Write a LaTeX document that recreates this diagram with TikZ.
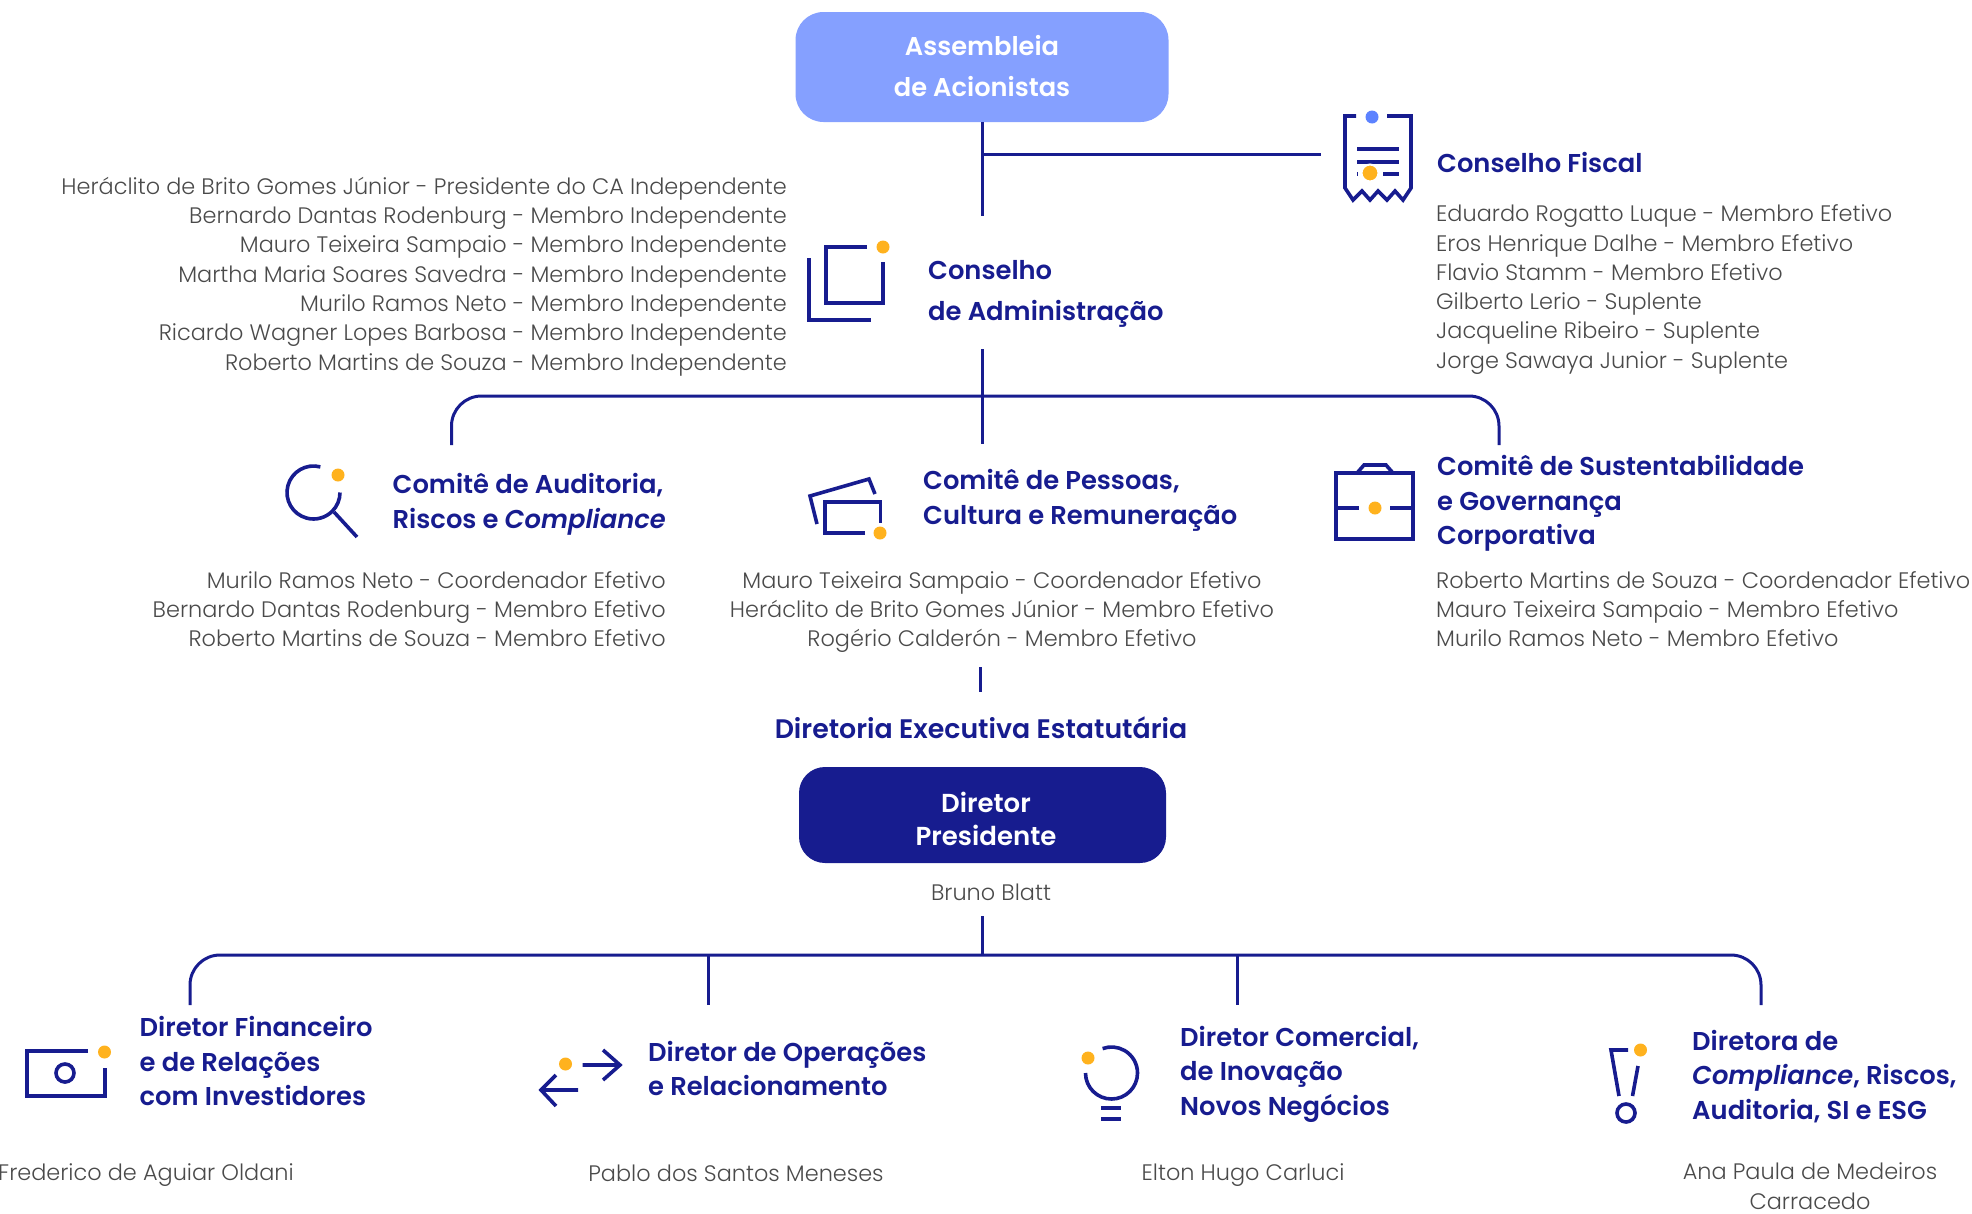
\documentclass[tikz,border=0pt]{standalone}
\usepackage{fontspec}
\setmainfont{Poppins}[BoldFont={Poppins SemiBold},ItalicFont={Poppins Italic},BoldItalicFont={Poppins SemiBold Italic}]
\newfontfamily\listfont{Poppins Light}
\definecolor{navy}{HTML}{171C8F}
\definecolor{periwinkle}{HTML}{85A0FF}
\definecolor{dotorange}{HTML}{FFB21E}
\definecolor{dotblue}{HTML}{5C82FF}
\definecolor{listgray}{HTML}{4A4A4A}
\begin{document}
\begin{tikzpicture}[x=1pt,y=-1pt]
    \tikzset{bus/.style={draw=navy,line width=3pt},
        busround/.style={bus,rounded corners=30pt},
        icon/.style={draw=navy,line width=3.6pt},
        orangedot/.style={circle,fill=dotorange,inner sep=0pt,minimum size=13pt},
        bluedot/.style={orangedot,fill=dotblue},
        topbox/.style={rounded corners=28pt,fill=periwinkle,minimum width=373pt,minimum height=110pt},
        toptext/.style={inner sep=0pt,text=white,align=center,font=\fontsize{25.7}{41}\selectfont\bfseries},
        ceobox/.style={rounded corners=26pt,fill=navy,minimum width=367pt,minimum height=96pt},
        ceotext/.style={inner sep=0pt,text=white,align=center,font=\fontsize{26}{33}\selectfont\bfseries},
        heading/.style={inner sep=0pt,anchor=west,align=left,text=navy,font=\fontsize{25.8}{34.5}\selectfont\bfseries},
        members/.style={inner sep=0pt,text=listgray,font=\fontsize{22.4}{29.3}\selectfont\listfont},
        leftlist/.style={members,anchor=west,align=left},
        rightlist/.style={members,anchor=east,align=right},
        midlist/.style={members,align=center}}
    \useasboundingbox (0,0) rectangle (1972,1213);
    % top of the chart
    \node[topbox] (assembleia) at (982,67) {};
    \node[toptext] (assembleiatext) at (982,66) {Assembleia\\de Acionistas};
    \coordinate (admtop) at (982,216);
    \coordinate (fiscalend) at (1321,154);
    \coordinate (fiscaljoin) at (982,154);
    \draw[bus] (assembleia.south) -- (admtop);
    \draw[bus] (fiscaljoin) -- (fiscalend);
    \node[heading] (fiscal) at (1437,162.5) {Conselho Fiscal};
    \node[leftlist] (fiscallist) at (1436,289.5) {Eduardo Rogatto Luque - Membro Efetivo\\Eros Henrique Dalhe - Membro Efetivo\\Flavio Stamm - Membro Efetivo\\Gilberto Lerio - Suplente\\Jacqueline Ribeiro - Suplente\\Jorge Sawaya Junior - Suplente};
    \draw[icon] (1356,116) -- (1345,116) -- (1345,188) -- (1353,200) -- (1362,191) -- (1370,200) -- (1378,191) -- (1387,200) -- (1395,191) -- (1403,200) -- (1411,188) -- (1411,116) -- (1387,116);
    \draw[icon] (1357,149) -- (1399,149) (1357,162) -- (1399,162) (1357,174) -- (1358,174) (1383,174) -- (1399,174);
    \node[bluedot] (fiscalblue) at (1372,117) {};
    \node[orangedot,draw=white,line width=2pt,minimum size=17pt] (fiscaldot) at (1370,173) {};
    % conselho de administracao
    \node[heading,font=\fontsize{25.8}{41}\selectfont\bfseries] (adm) at (928,294) {Conselho\\de Administração};
    \node[rightlist] (admlist) at (787,276.5) {Heráclito de Brito Gomes Júnior - Presidente do CA Independente\\Bernardo Dantas Rodenburg - Membro Independente\\Mauro Teixeira Sampaio - Membro Independente\\Martha Maria Soares Savedra - Membro Independente\\Murilo Ramos Neto - Membro Independente\\Ricardo Wagner Lopes Barbosa - Membro Independente\\Roberto Martins de Souza - Membro Independente};
    \draw[icon] (809,258) -- (809,320) -- (871,320);
    \draw[icon] (867,247) -- (826,247) -- (826,303) -- (883,303) -- (883,262);
    \node[orangedot] (admdot) at (883,247) {};
    % comites
    \coordinate (admbottom) at (982,349);
    \coordinate (pessoastop) at (982,444);
    \coordinate (auditoriatop) at (451.5,445);
    \coordinate (sustentop) at (1499,445);
    \coordinate (busmid) at (982,396);
    \draw[bus] (admbottom) -- (pessoastop);
    \draw[busround] (auditoriatop) |- (busmid) -| (sustentop);
    \node[heading] (auditoria) at (392.5,504.5) {Comitê de Auditoria,\\Riscos e \textit{Compliance}};
    \node[rightlist] (auditorialist) at (666,609) {Murilo Ramos Neto - Coordenador Efetivo\\Bernardo Dantas Rodenburg - Membro Efetivo\\Roberto Martins de Souza - Membro Efetivo};
    \draw[icon] (313.5,492.5) ++(75:26.5pt) arc[start angle=75,end angle=360,radius=26.5pt];
    \draw[icon] (334,512) -- (357,537);
    \node[orangedot] (auditoriadot) at (338,475) {};
    \node[heading] (pessoas) at (923,500.5) {Comitê de Pessoas,\\Cultura e Remuneração};
    \node[midlist] (pessoaslist) at (1002,612) {Mauro Teixeira Sampaio - Coordenador Efetivo\\Heráclito de Brito Gomes Júnior - Membro Efetivo\\Rogério Calderón - Membro Efetivo};
    \draw[icon] (865,533) -- (825,533) -- (825,502) -- (880.5,502) -- (880.5,523);
    \draw[icon] (817,524) -- (810,496) -- (869,479) -- (875,494);
    \node[orangedot] (pessoasdot) at (880,533) {};
    \node[heading] (susten) at (1437,503.5) {Comitê de Sustentabilidade\\e Governança\\Corporativa};
    \node[leftlist] (sustenlist) at (1436,609) {Roberto Martins de Souza - Coordenador Efetivo\\Mauro Teixeira Sampaio - Membro Efetivo\\Murilo Ramos Neto - Membro Efetivo};
    \draw[icon] (1336,473) rectangle (1413,539);
    \draw[icon] (1357,473) -- (1364,465) -- (1386,465) -- (1393,473);
    \draw[icon] (1336,508) -- (1359,508) (1390,508) -- (1413,508);
    \node[orangedot] (sustendot) at (1375,508) {};
    % diretoria
    \coordinate (dirtop) at (980,667);
    \coordinate (dirbottom) at (980,692);
    \draw[bus] (dirtop) -- (dirbottom);
    \node[heading,anchor=center,font=\fontsize{26.8}{34.5}\selectfont\bfseries] (diretoria) at (981,728) {Diretoria Executiva Estatutária};
    \node[ceobox] (presidente) at (982.5,815) {};
    \node[ceotext] (presidentetext) at (986,819) {Diretor\\Presidente};
    \node[midlist] (bruno) at (991,892) {Bruno Blatt};
    \coordinate (ceobottom) at (982,916);
    \coordinate (busceo) at (982,955);
    \coordinate (fintop) at (190,1005);
    \coordinate (optop) at (708,1005);
    \coordinate (comtop) at (1237,1005);
    \coordinate (comptop) at (1761,1005);
    \coordinate (busop) at (708,955);
    \coordinate (buscom) at (1237,955);
    \draw[bus] (ceobottom) -- (busceo);
    \draw[busround] (fintop) |- (busceo) -| (comptop);
    \draw[bus] (busop) -- (optop);
    \draw[bus] (buscom) -- (comtop);
    % financeiro
    \node[heading] (financeiro) at (139.5,1061) {Diretor Financeiro\\e de Relações\\com Investidores};
    \node[midlist] (frederico) at (146,1175) {Frederico de Aguiar Oldani};
    \draw[icon] (88,1051) -- (27,1051) -- (27,1096) -- (105,1096) -- (105,1068);
    \draw[icon] (65,1073) circle[radius=9pt];
    \node[orangedot] (financeirodot) at (104.5,1052) {};
    % operacoes
    \node[heading] (operacoes) at (648,1068.5) {Diretor de Operações\\e Relacionamento};
    \node[midlist] (pablo) at (736,1173) {Pablo dos Santos Meneses};
    \draw[icon] (582.5,1065) -- (620,1065) (603,1050) -- (620,1065) -- (603,1080);
    \draw[icon] (578,1090) -- (541,1090) (556,1075) -- (541,1090) -- (556,1106);
    \node[orangedot] (operacoesdot) at (565.5,1064) {};
    % comercial
    \node[heading] (comercial) at (1180,1074) {Diretor Comercial,\\de Inovação\\Novos Negócios};
    \node[midlist] (elton) at (1243,1175) {Elton Hugo Carluci};
    \draw[icon] (1111.5,1073) ++(180:26pt) arc[start angle=180,end angle=470,radius=26pt];
    \draw[icon] (1101,1108) -- (1121,1108) (1101,1119) -- (1121,1119);
    \node[orangedot] (comercialdot) at (1088,1058) {};
    % compliance
    \node[heading] (compliance) at (1692,1076.5) {Diretora de\\\textit{Compliance}, Riscos,\\Auditoria, SI e ESG};
    \node[midlist] (ana) at (1810,1186) {Ana Paula de Medeiros\\Carracedo};
    \draw[icon] (1628,1050) -- (1611,1050) -- (1619,1096);
    \draw[icon] (1638,1066) -- (1632.5,1096);
    \draw[icon] (1626,1113) circle[radius=9pt];
    \node[orangedot] (compliancedot) at (1640.5,1050) {};
\end{tikzpicture}
\end{document}
